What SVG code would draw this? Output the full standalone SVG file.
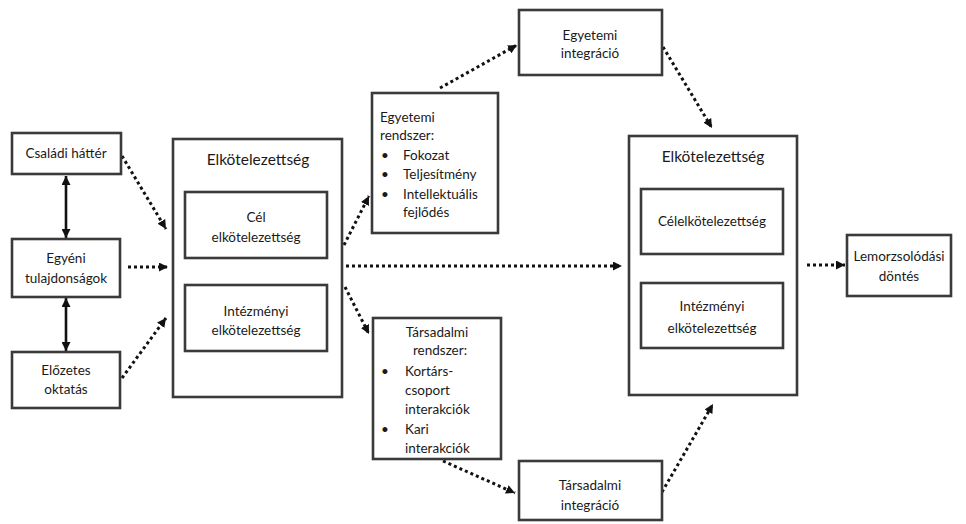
<svg xmlns="http://www.w3.org/2000/svg" width="966" height="524" viewBox="0 0 966 524">
<style>
  .box{fill:#fff;stroke:#3a3a3a;stroke-width:2.6}
  .t{font-family:Lato,"Open Sans","DejaVu Sans",sans-serif;font-size:13.5px;fill:#1a1a1a}
  .c{text-anchor:middle}
  .title{font-size:15.5px}
  .dot{fill:none;stroke:#111;stroke-width:3;stroke-dasharray:3 3}
  .solid{fill:none;stroke:#111;stroke-width:2.6}
</style>
<defs>
  <marker id="ah" viewBox="0 0 10 10" refX="10" refY="5" markerWidth="9" markerHeight="9" markerUnits="userSpaceOnUse" orient="auto-start-reverse">
    <path d="M0,0 L10,5 L0,10 z" fill="#111"/>
  </marker>
</defs>
<rect width="966" height="524" fill="#fff"/>

<g id="connectors">
  <line class="dot" x1="122" y1="156" x2="166" y2="229" marker-end="url(#ah)"/>
  <line class="dot" x1="128" y1="267" x2="168" y2="267" marker-end="url(#ah)"/>
  <line class="dot" x1="122" y1="378" x2="166" y2="318" marker-end="url(#ah)"/>
  <line class="solid" x1="66" y1="176" x2="66" y2="238" marker-start="url(#ah)" marker-end="url(#ah)"/>
  <line class="solid" x1="66" y1="298" x2="66" y2="351" marker-start="url(#ah)" marker-end="url(#ah)"/>
  <line class="dot" x1="344" y1="245" x2="369" y2="196" marker-end="url(#ah)"/>
  <line class="dot" x1="346" y1="266" x2="622" y2="266" marker-end="url(#ah)"/>
  <line class="dot" x1="345" y1="287" x2="369" y2="334" marker-end="url(#ah)"/>
  <line class="dot" x1="440" y1="88" x2="517" y2="45" marker-end="url(#ah)"/>
  <line class="dot" x1="443" y1="461" x2="515" y2="493" marker-end="url(#ah)"/>
  <line class="dot" x1="663" y1="47" x2="712" y2="128" marker-end="url(#ah)"/>
  <line class="dot" x1="662" y1="492" x2="713" y2="404" marker-end="url(#ah)"/>
  <line class="dot" x1="807" y1="265" x2="845" y2="265" marker-end="url(#ah)"/>
</g>

<g id="csaladi">
  <rect class="box" x="12" y="133" width="109" height="41"/>
  <text class="t c" x="66" y="158">Családi háttér</text>
</g>
<g id="egyeni">
  <rect class="box" x="12" y="239" width="108" height="58"/>
  <text class="t c" x="66" y="263">Egyéni</text>
  <text class="t c" x="66" y="283">tulajdonságok</text>
</g>
<g id="elozetes">
  <rect class="box" x="12" y="352" width="108" height="56"/>
  <text class="t c" x="66" y="375">Előzetes</text>
  <text class="t c" x="66" y="394">oktatás</text>
</g>

<g id="elkot1">
  <rect class="box" x="173" y="139" width="169" height="258"/>
  <text class="t c title" x="258" y="165">Elkötelezettség</text>
  <g id="cel1">
    <rect class="box" x="185" y="192" width="142" height="66"/>
    <text class="t c" x="256" y="222">Cél</text>
    <text class="t c" x="256" y="242">elkötelezettség</text>
  </g>
  <g id="intezmenyi1">
    <rect class="box" x="185" y="285" width="142" height="66"/>
    <text class="t c" x="256" y="316">Intézményi</text>
    <text class="t c" x="256" y="335">elkötelezettség</text>
  </g>
</g>

<g id="egyetemi-rendszer">
  <rect class="box" x="372" y="93" width="126" height="140"/>
  <text class="t" x="380" y="122">Egyetemi</text>
  <text class="t" x="380" y="140">rendszer:</text>
  <text class="t" x="381" y="160">•</text><text class="t" x="403" y="160">Fokozat</text>
  <text class="t" x="381" y="179">•</text><text class="t" x="403" y="179">Teljesítmény</text>
  <text class="t" x="381" y="199">•</text><text class="t" x="403" y="199">Intellektuális</text>
  <text class="t" x="403" y="217">fejlődés</text>
</g>

<g id="tarsadalmi-rendszer">
  <rect class="box" x="373" y="318" width="128" height="141"/>
  <text class="t c" x="437" y="337">Társadalmi</text>
  <text class="t c" x="440" y="355">rendszer:</text>
  <text class="t" x="381" y="376">•</text><text class="t" x="405" y="376">Kortárs-</text>
  <text class="t" x="405" y="395">csoport</text>
  <text class="t" x="405" y="414">interakciók</text>
  <text class="t" x="381" y="434">•</text><text class="t" x="405" y="434">Kari</text>
  <text class="t" x="405" y="453">interakciók</text>
</g>

<g id="egyetemi-integracio">
  <rect class="box" x="519" y="10" width="143" height="65"/>
  <text class="t c" x="590" y="40">Egyetemi</text>
  <text class="t c" x="590" y="58">integráció</text>
</g>

<g id="tarsadalmi-integracio">
  <rect class="box" x="519" y="461" width="143" height="59"/>
  <text class="t c" x="590" y="490">Társadalmi</text>
  <text class="t c" x="590" y="510">integráció</text>
</g>

<g id="elkot2">
  <rect class="box" x="629" y="136" width="168" height="259"/>
  <text class="t c title" x="713" y="162">Elkötelezettség</text>
  <g id="celelkot2">
    <rect class="box" x="641" y="189" width="142" height="65"/>
    <text class="t c" x="712" y="226">Célelkötelezettség</text>
  </g>
  <g id="intezmenyi2">
    <rect class="box" x="641" y="283" width="142" height="65"/>
    <text class="t c" x="712" y="311">Intézményi</text>
    <text class="t c" x="712" y="333">elkötelezettség</text>
  </g>
</g>

<g id="lemorzsolodasi">
  <rect class="box" x="847" y="235" width="104" height="61"/>
  <text class="t c" x="899" y="261">Lemorzsolódási</text>
  <text class="t c" x="899" y="281">döntés</text>
</g>
</svg>
